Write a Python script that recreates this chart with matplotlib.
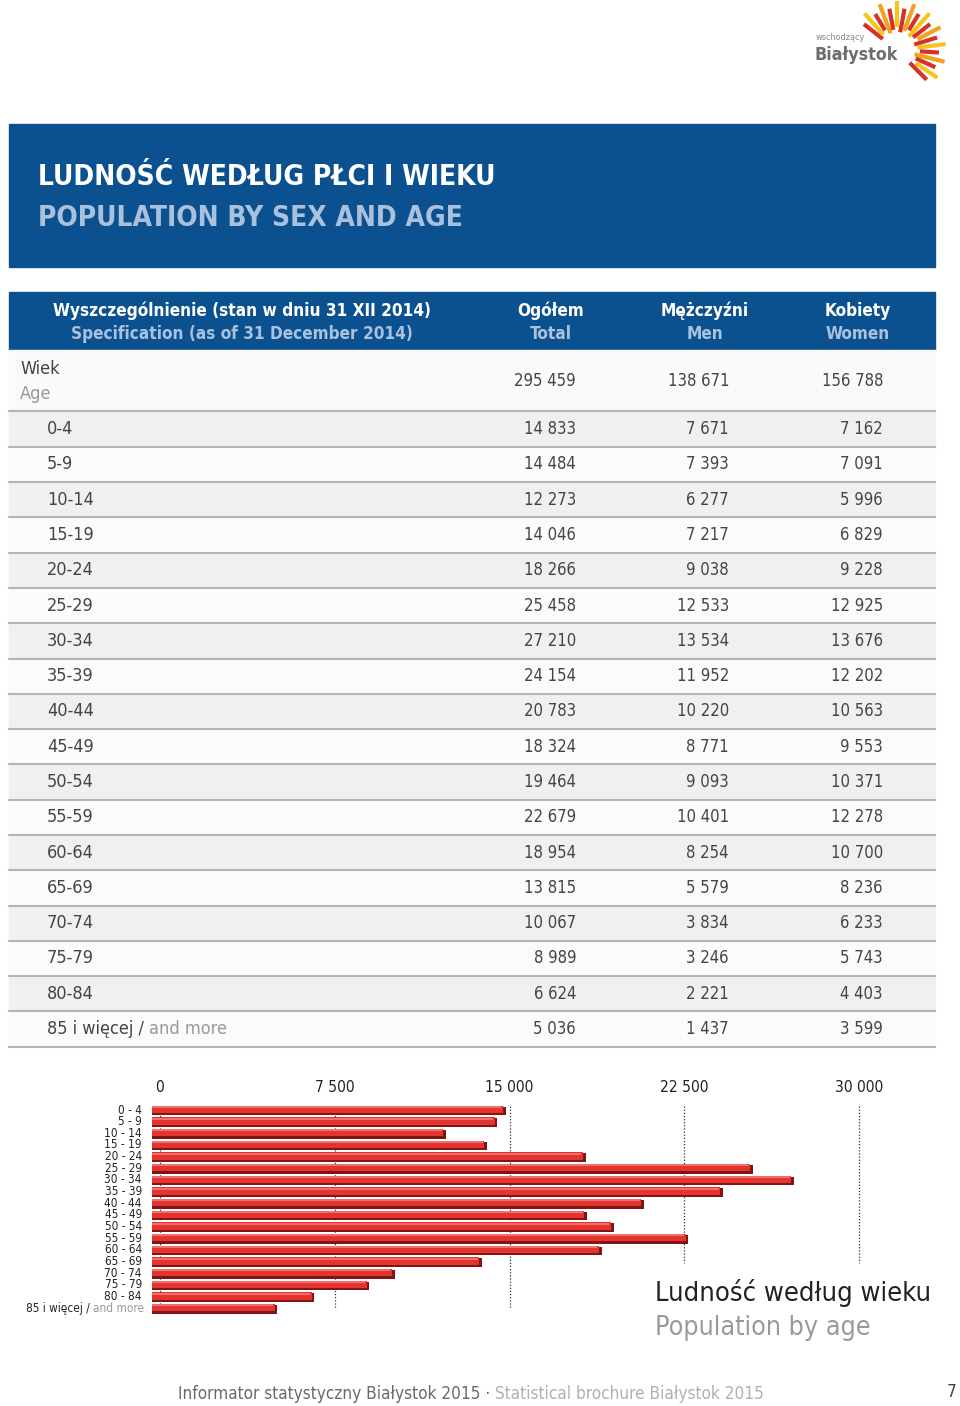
import matplotlib
matplotlib.use("Agg")
import matplotlib.pyplot as plt
from matplotlib.patches import Rectangle
import numpy as np

# data
ages = ["0-4", "5-9", "10-14", "15-19", "20-24", "25-29", "30-34", "35-39", "40-44",
        "45-49", "50-54", "55-59", "60-64", "65-69", "70-74", "75-79", "80-84", "85"]
total = [14833, 14484, 12273, 14046, 18266, 25458, 27210, 24154, 20783,
         18324, 19464, 22679, 18954, 13815, 10067, 8989, 6624, 5036]
men = [7671, 7393, 6277, 7217, 9038, 12533, 13534, 11952, 10220,
       8771, 9093, 10401, 8254, 5579, 3834, 3246, 2221, 1437]
women = [7162, 7091, 5996, 6829, 9228, 12925, 13676, 12202, 10563,
         9553, 10371, 12278, 10700, 8236, 6233, 5743, 4403, 3599]
sum_total, sum_men, sum_women = 295459, 138671, 156788
ticks = [0, 7500, 15000, 22500, 30000]

plt.rcParams["font.family"] = ["DejaVu Sans"]
plt.rcParams["font.stretch"] = "condensed"

BLUE = "#0b5190"
LBLUE = "#a9c1dd"
W, H = 960, 1406


def fmt(v):
    return f"{v:,}".replace(",", " ")


fig = plt.figure(figsize=(9.6, 14.06), dpi=100)
pg = fig.add_axes([0, 0, 1, 1])
pg.set_xlim(0, W)
pg.set_ylim(H, 0)
pg.axis("off")

# logo
cx, cy = 897, 50
angs = np.linspace(142, -45, 19)
for k, a in enumerate(angs):
    r0 = 18 + (k % 3) * 2.5
    r1 = 42 + (k % 2) * 7
    t = np.deg2rad(a)
    col = ["#d7312b", "#f6c51b", "#d7312b", "#f3a21c"][k % 4]
    pg.plot([cx + r0 * np.cos(t), cx + r1 * np.cos(t)],
            [cy - r0 * np.sin(t), cy - r1 * np.sin(t)],
            color=col, lw=3, solid_capstyle="butt")
pg.text(816, 37, "wschodzący", fontsize=6.5, color="#8a8a8a", va="center")
pg.text(815, 55, "Białystok", fontsize=12.8, color="#6d6d6d", va="center", weight="bold")

# title band
pg.add_patch(Rectangle((9, 124), 926, 143, color=BLUE))
pg.text(38, 177, "LUDNOŚĆ WEDŁUG PŁCI I WIEKU", color="white", fontsize=20.2,
        weight="bold", va="center")
pg.text(38, 218, "POPULATION BY SEX AND AGE", color=LBLUE, fontsize=20.2,
        weight="bold", va="center")

# table header
pg.add_patch(Rectangle((9, 292), 926, 58, color=BLUE))
heads = [(242, "Wyszczególnienie (stan w dniu 31 XII 2014)", "Specification (as of 31 December 2014)"),
         (551, "Ogółem", "Total"), (705, "Mężczyźni", "Men"), (858, "Kobiety", "Women")]
for x, pl, en in heads:
    pg.text(x, 311, pl, color="white", fontsize=12.3, weight="bold", ha="center", va="center")
    pg.text(x, 334, en, color=LBLUE, fontsize=12.3, weight="bold", ha="center", va="center")

# summary row
col_x = [576, 729, 883]
pg.add_patch(Rectangle((9, 350), 926, 60, color="#fafafa"))
pg.text(20, 369, "Wiek", fontsize=13, color="#444444", va="center")
pg.text(20, 394, "Age", fontsize=13, color="#999999", va="center")
for x, v in zip(col_x, [sum_total, sum_men, sum_women]):
    pg.text(x, 381, fmt(v), fontsize=12, color="#444444", ha="right", va="center")
pg.plot([9, 935], [410.5, 410.5], color="#b5b5b5", lw=1.5)

# age rows
pitch = 35.29
for i, a in enumerate(ages):
    top = 411.5 + i * pitch
    yc = top + pitch / 2
    pg.add_patch(Rectangle((9, top), 926, pitch, color="#eef0f2" if i % 2 == 0 else "#fbfbfb"))
    pg.plot([9, 935], [top + pitch, top + pitch], color="#b5b5b5", lw=1.5)
    if a == "85":
        t1 = pg.text(47, yc, "85 i więcej / ", fontsize=13, color="#444444", va="center")
        pg.annotate("and more", xycoords=t1, xy=(1, 0.5), va="center",
                    fontsize=13, color="#999999")
    else:
        pg.text(47, yc, a, fontsize=13, color="#444444", va="center")
    for x, v in zip(col_x, [total[i], men[i], women[i]]):
        pg.text(x, yc, fmt(v), fontsize=12, color="#444444", ha="right", va="center")

# bar chart
x0, x30 = 160, 859
ytop, ybot = 1104, 1314
ax = fig.add_axes([x0 / W, 1 - ybot / H, (x30 - x0) / W, (ybot - ytop) / H])
ax.set_xlim(0, 30000)
n = len(ages)
ax.set_ylim(n - 0.5, -0.5)
ax.axis("off")
y = np.arange(n)
tot = np.array(total)
ax.barh(y + 0.1, tot + 350, left=-350, height=0.76, color="#7e1714", zorder=2, clip_on=False)
ax.barh(y - 0.05, tot + 230, left=-350, height=0.62, color="#e5342f", zorder=3, clip_on=False)
ax.barh(y - 0.25, tot + 150, left=-330, height=0.16, color="#f0706b", zorder=4, clip_on=False)
for t in ticks:
    ybottom = 17.1 if t <= 15000 else 13.1
    ax.vlines(t, -0.3, ybottom, color="#333333", lw=0.9, linestyles=(0, (1, 1.5)),
              zorder=1, clip_on=False)
    ax.text(t, -1.9, fmt(t), fontsize=11.2, color="#222222", ha="center", va="center",
            clip_on=False)
labels = [a.replace("-", " - ") for a in ages]
for i, lab in enumerate(labels):
    yy = 1110 + i * 11.65
    if lab == "85":
        pg.text(93, yy, "and more", fontsize=8.5, color="#999999", ha="left", va="center")
        pg.text(93, yy, "85 i więcej / ", fontsize=8.5, color="#222222", ha="right", va="center")
    else:
        pg.text(142, yy, lab, fontsize=8.5, color="#222222", ha="right", va="center")

pg.text(655, 1293, "Ludność według wieku", fontsize=19.5, color="#222222", va="center")
pg.text(655, 1328, "Population by age", fontsize=19.3, color="#999999", va="center")

# footer
t1 = pg.text(178, 1394, "Informator statystyczny Białystok 2015 · ", fontsize=12.3,
             color="#6a6a6a", va="center")
pg.annotate("Statistical brochure Białystok 2015", xycoords=t1, xy=(1, 0.5), va="center",
            fontsize=12.3, color="#b0b0b0")
pg.text(952, 1392, "7", fontsize=12.3, color="#444444", ha="center", va="center")

fig.savefig("out.png", dpi=100)
